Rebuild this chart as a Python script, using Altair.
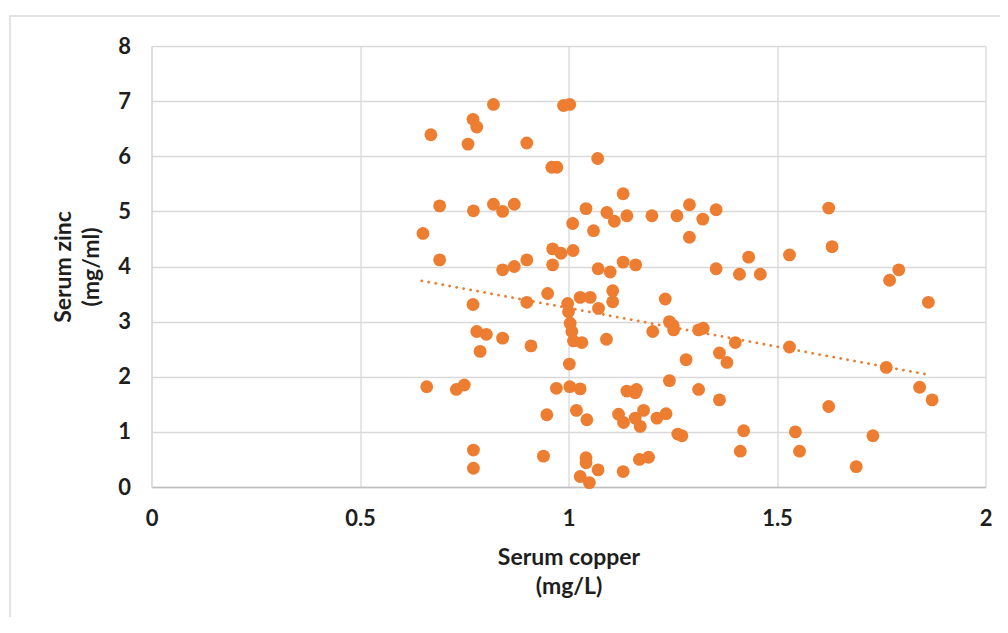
import altair as alt
import pandas as pd

# Serum copper (mg/L) and serum zinc (mg/ml)
copper = [0.820, 0.988, 1.003, 0.771, 0.780, 0.670, 0.759, 0.900, 1.070, 0.960,
          0.972, 1.131, 0.691, 0.772, 0.820, 0.842, 0.870, 1.042, 1.092, 1.110,
          1.140, 1.200, 1.260, 1.290, 1.322, 1.354, 1.290, 1.010, 1.060, 0.651,
          0.691, 0.962, 0.982, 1.011, 0.842, 0.870, 0.900, 0.962, 1.071, 1.100,
          1.131, 1.161, 1.624, 1.632, 1.354, 1.432, 1.410, 1.460, 1.530, 1.792,
          1.770, 1.863, 0.771, 0.900, 0.950, 0.998, 1.000, 1.004, 1.008, 1.012,
          1.032, 1.028, 1.052, 1.072, 1.106, 1.106, 1.232, 1.242, 1.251, 1.202,
          1.252, 1.312, 1.323, 1.400, 1.530, 0.780, 0.803, 0.842, 0.788, 0.910,
          1.091, 1.282, 1.362, 1.380, 1.002, 1.762, 0.660, 0.731, 0.750, 0.971,
          1.003, 1.028, 1.140, 1.163, 1.160, 1.242, 1.312, 1.362, 1.842, 1.872,
          1.624, 0.948, 1.019, 1.044, 1.120, 1.132, 1.160, 1.180, 1.172, 1.212,
          1.234, 1.262, 1.272, 1.420, 1.544, 1.730, 0.772, 0.772, 0.940, 1.042,
          1.042, 1.071, 1.028, 1.050, 1.131, 1.170, 1.192, 1.412, 1.554, 1.690]
zinc = [6.94, 6.92, 6.94, 6.67, 6.53, 6.39, 6.22, 6.24, 5.96, 5.80,
        5.80, 5.32, 5.10, 5.01, 5.13, 5.00, 5.13, 5.05, 4.98, 4.82,
        4.92, 4.92, 4.92, 5.12, 4.86, 5.03, 4.53, 4.78, 4.65, 4.60,
        4.12, 4.32, 4.24, 4.29, 3.94, 4.00, 4.12, 4.03, 3.96, 3.90,
        4.08, 4.03, 5.06, 4.36, 3.96, 4.17, 3.86, 3.86, 4.21, 3.94,
        3.75, 3.35, 3.31, 3.35, 3.51, 3.33, 3.18, 2.97, 2.82, 2.65,
        2.62, 3.44, 3.44, 3.24, 3.56, 3.36, 3.41, 3.00, 2.93, 2.82,
        2.85, 2.85, 2.88, 2.62, 2.54, 2.82, 2.77, 2.70, 2.46, 2.56,
        2.68, 2.31, 2.43, 2.26, 2.23, 2.17, 1.82, 1.77, 1.85, 1.79,
        1.82, 1.78, 1.74, 1.77, 1.71, 1.93, 1.77, 1.58, 1.81, 1.58,
        1.46, 1.31, 1.39, 1.22, 1.32, 1.17, 1.25, 1.39, 1.10, 1.25,
        1.33, 0.96, 0.93, 1.02, 1.00, 0.93, 0.67, 0.34, 0.56, 0.53,
        0.44, 0.31, 0.19, 0.08, 0.28, 0.50, 0.54, 0.65, 0.65, 0.37]

# Linear trend line end points
trend_copper = [0.648, 1.868]
trend_zinc = [3.74, 2.03]

x_ticks = [0, 0.5, 1, 1.5, 2]
y_ticks = [0, 1, 2, 3, 4, 5, 6, 7, 8]

ORANGE = "#ED7D31"
FONT = "Lato"
TEXT = "#1e1e1e"

df = pd.DataFrame({"copper": copper, "zinc": zinc})
tdf = pd.DataFrame({"copper": trend_copper, "zinc": trend_zinc})

x_enc = alt.X(
    "copper:Q",
    scale=alt.Scale(domain=[0, 2], nice=False, zero=False),
    axis=alt.Axis(
        values=x_ticks, format=".1~f", title=["Serum copper", "(mg/L)"],
        grid=True, gridColor="#D9D9D9", gridWidth=1.3,
        domainColor="#BFBFBF", domainWidth=1.3, ticks=False,
        labelFont=FONT, labelFontSize=22, labelFontWeight="bold", labelColor=TEXT,
        labelPadding=21, labelFlush=False,
        titleFont=FONT, titleFontSize=23, titleFontWeight="bold", titleColor=TEXT,
        titleX=417, titleY=70, titleBaseline="middle", titleLineHeight=29,
    ),
)
y_enc = alt.Y(
    "zinc:Q",
    scale=alt.Scale(domain=[0, 8], nice=False, zero=False),
    axis=alt.Axis(
        values=y_ticks, format="d", title=["Serum zinc", "(mg/ml)"],
        grid=True, gridColor="#D9D9D9", gridWidth=1.3,
        domainColor="#D9D9D9", domainWidth=1.3, ticks=False,
        labelFont=FONT, labelFontSize=22, labelFontWeight="bold", labelColor=TEXT,
        labelPadding=21, labelFlush=False,
        titleFont=FONT, titleFontSize=23, titleFontWeight="bold", titleColor=TEXT,
        titleAngle=-90, titleX=-88, titleY=220.5, titleBaseline="middle",
        titleAlign="center", titleLineHeight=28,
    ),
)

frame = alt.Chart(pd.DataFrame({"a": [0]})).mark_rect(
    fill=None, stroke="#D9D9D9", strokeWidth=1.5
).encode(
    x=alt.value(-141.5), x2=alt.value(880), y=alt.value(-30), y2=alt.value(700)
)

trend = alt.Chart(tdf).mark_line(
    color=ORANGE, strokeWidth=2.8, strokeDash=[0.1, 7], strokeCap="round"
).encode(x=x_enc, y=y_enc)

points = alt.Chart(df).mark_circle(
    color=ORANGE, opacity=1, size=165
).encode(x="copper:Q", y="zinc:Q")

chart = alt.layer(frame, trend, points).properties(
    width=834, height=441,
    autosize=alt.AutoSizeParams(type="none"),
    padding={"left": 143.5, "top": 38, "right": 14.5, "bottom": 130},
    background="white",
).configure_view(stroke=None)

chart.save("out.html", embed_options={"renderer": "svg", "actions": False})
